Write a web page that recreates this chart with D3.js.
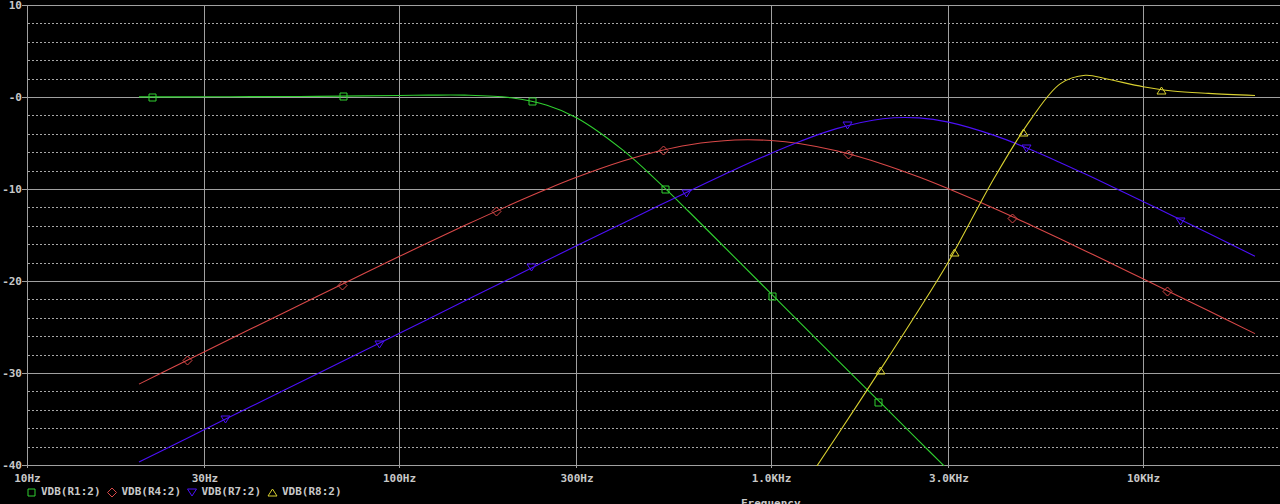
<!DOCTYPE html>
<html><head><meta charset="utf-8">
<script src="https://cdn.jsdelivr.net/npm/d3@7"></script>
<style>html,body{margin:0;padding:0;background:#000;overflow:hidden}</style>
</head><body><svg id="c" width="1280" height="504"></svg>
<script>
// ---- data ----
const freqs = [20,25,30,40,50,60,80,100,120,150,200,250,300,400,500,600,800,1000,1200,1500,2000,2500,3000,4000,5000,6000,7000,8000,10000,12000,15000,20000];
const r1Db = [0.01,0.01,0.02,0.04,0.05,0.07,0.12,0.17,0.20,0.20,-0.08,-0.89,-2.25,-5.78,-9.31,-12.42,-17.46,-21.37,-24.57,-28.48,-33.5,-37.4,-40.57,null,null,null,null,null,null,null,null,null];
const r4Db = [-31.21,-29.27,-27.69,-25.2,-23.28,-21.71,-19.24,-17.35,-15.82,-13.98,-11.69,-10.01,-8.73,-6.96,-5.87,-5.21,-4.68,-4.73,-5.08,-5.85,-7.3,-8.70,-9.98,-12.15,-13.94,-15.44,-16.73,-17.86,-19.75,-21.32,-23.24,-25.72];
const r7Db = [-39.67,-37.74,-36.15,-33.65,-31.72,-30.13,-27.63,-25.70,-24.12,-22.18,-19.69,-17.75,-16.18,-13.71,-11.80,-10.26,-7.88,-6.13,-4.81,-3.44,-2.36,-2.27,-2.73,-4.20,-5.74,-7.14,-8.38,-9.48,-11.36,-12.91,-14.82,-17.31];
const r8Db = [null,null,null,null,null,null,null,null,null,null,null,null,null,null,null,null,null,-47.6,-42.8,-36.9,-29.2,-23.1,-17.9,-8.67,-2.4,1.45,2.36,1.95,1.12,0.65,0.39,0.17];

const r1MarkF = [21.7,70.5,228,520,1004,1936];
const r1MarkDb = [0,0.07,-0.43,-10.0,-21.6,-33.1];
const r4MarkF = [26.9,70.2,182,512,1608,4436,11600];
const r4MarkDb = [-28.6,-20.4,-12.4,-5.8,-6.2,-13.1,-21.1];
const r7MarkF = [34.1,88.3,227,590,1603,4840,12600];
const r7MarkDb = [-35.0,-26.8,-18.5,-10.4,-3.05,-5.55,-13.5];
const r8MarkF = [1963,3105,4766,11200];
const r8MarkDb = [-29.7,-16.9,-3.85,0.72];

const seriesNames = ["VDB(R1:2)","VDB(R4:2)","VDB(R7:2)","VDB(R8:2)"];
const seriesColors = ["#30d030","#d84848","#4c10f8","#d8d030"];
const seriesMarkers = ["square","diamond","tdown","tup"];

const xTicks = [10,30,100,300,1000,3000,10000];
const xTickLabels = ["10Hz","30Hz","100Hz","300Hz","1.0KHz","3.0KHz","10KHz"];
const yMajor = [10,0,-10,-20,-30,-40];
const yTickLabels = ["10","-0","-10","-20","-30","-40"];
const yMinor = [8,6,4,2,-2,-4,-6,-8,-12,-14,-16,-18,-22,-24,-26,-28,-32,-34,-36,-38];

// ---- drawing ----
const svg = d3.select('#c');
svg.append('rect').attr('width',1280).attr('height',504).attr('fill','#000');
const x = d3.scaleLog().domain([10,10000]).range([27,1143]);
const y = d3.scaleLinear().domain([-40,10]).range([465,5]);
const font = "'DejaVu Sans Mono', monospace";

svg.append('defs').append('clipPath').attr('id','plot')
  .append('rect').attr('x',27).attr('y',4).attr('width',1253).attr('height',462);

const grid = svg.append('g').attr('shape-rendering','crispEdges');
grid.selectAll('.mn').data(yMinor).enter().append('line')
  .attr('x1',28).attr('x2',1280).attr('y1',d=>Math.round(y(d))+0.5).attr('y2',d=>Math.round(y(d))+0.5)
  .attr('stroke','#a8a8a8').attr('stroke-dasharray','2,2');
grid.selectAll('.mj').data(yMajor).enter().append('line')
  .attr('x1',22).attr('x2',1280).attr('y1',d=>y(d)+0.5).attr('y2',d=>y(d)+0.5)
  .attr('stroke','#a0a0a0');
grid.selectAll('.vx').data(xTicks).enter().append('line')
  .attr('x1',d=>Math.round(x(d))+0.5).attr('x2',d=>Math.round(x(d))+0.5)
  .attr('y1',5).attr('y2',468).attr('stroke','#a0a0a0');

svg.selectAll('.yl').data(yMajor).enter().append('text')
  .attr('x',22).attr('y',d=>y(d)+4).attr('text-anchor','end')
  .attr('font-family',font).attr('font-size',11).attr('font-weight','bold')
  .attr('fill','#c8c8c8').text((d,i)=>yTickLabels[i]);
svg.selectAll('.xl').data(xTicks).enter().append('text')
  .attr('x',d=>x(d)+0.5).attr('y',482).attr('text-anchor','middle')
  .attr('font-family',font).attr('font-size',11).attr('font-weight','bold')
  .attr('fill','#c8c8c8').text((d,i)=>xTickLabels[i]);
svg.append('text').attr('x',741).attr('y',507)
  .attr('font-family',font).attr('font-size',11).attr('font-weight','bold')
  .attr('fill','#c8c8c8').text('Frequency');

function markerPath(type,cx,cy){
  if(type==='square') return `M${cx-3.5},${cy-3.5}h7v7h-7z`;
  if(type==='diamond') return `M${cx},${cy-4.5}L${cx+4.5},${cy}L${cx},${cy+4.5}L${cx-4.5},${cy}Z`;
  if(type==='tdown') return `M${cx-4.5},${cy-3.5}L${cx+4.5},${cy-3.5}L${cx},${cy+3.5}Z`;
  return `M${cx-4.5},${cy+3.5}L${cx+4.5},${cy+3.5}L${cx},${cy-3.5}Z`;
}

const seriesDb = [r1Db,r4Db,r7Db,r8Db];
const markF = [r1MarkF,r4MarkF,r7MarkF,r8MarkF];
const markDb = [r1MarkDb,r4MarkDb,r7MarkDb,r8MarkDb];
const plot = svg.append('g').attr('clip-path','url(#plot)');
const line = d3.line().defined(d=>d[1]!=null).x(d=>x(d[0])).y(d=>y(d[1])).curve(d3.curveCatmullRom);
seriesDb.forEach((vals,i)=>{
  const pts = freqs.map((f,k)=>[f,vals[k]]);
  plot.append('path').attr('d',line(pts)).attr('fill','none')
    .attr('stroke',seriesColors[i]).attr('stroke-width',1.1);
  plot.selectAll(null).data(markF[i].map((f,k)=>[f,markDb[i][k]])).enter().append('path')
    .attr('d',d=>markerPath(seriesMarkers[i],Math.round(x(d[0]))+0.5,Math.round(y(d[1]))+0.5))
    .attr('fill','none').attr('stroke',seriesColors[i]).attr('stroke-width',1);
});

// axis line on top
svg.append('line').attr('x1',27.5).attr('x2',27.5).attr('y1',5).attr('y2',466)
  .attr('stroke','#a0a0a0').attr('shape-rendering','crispEdges');

// legend
const legX = [31,111.5,191.5,272];
const leg = svg.append('g');
seriesNames.forEach((n,i)=>{
  leg.append('path').attr('d',markerPath(seriesMarkers[i],legX[i]+0.5,492.5))
    .attr('fill','none').attr('stroke',seriesColors[i]);
  leg.append('text').attr('x',legX[i]+10).attr('y',495)
    .attr('font-family',font).attr('font-size',11).attr('font-weight','bold')
    .attr('fill','#c8c8c8').text(n);
});
</script></body></html>
